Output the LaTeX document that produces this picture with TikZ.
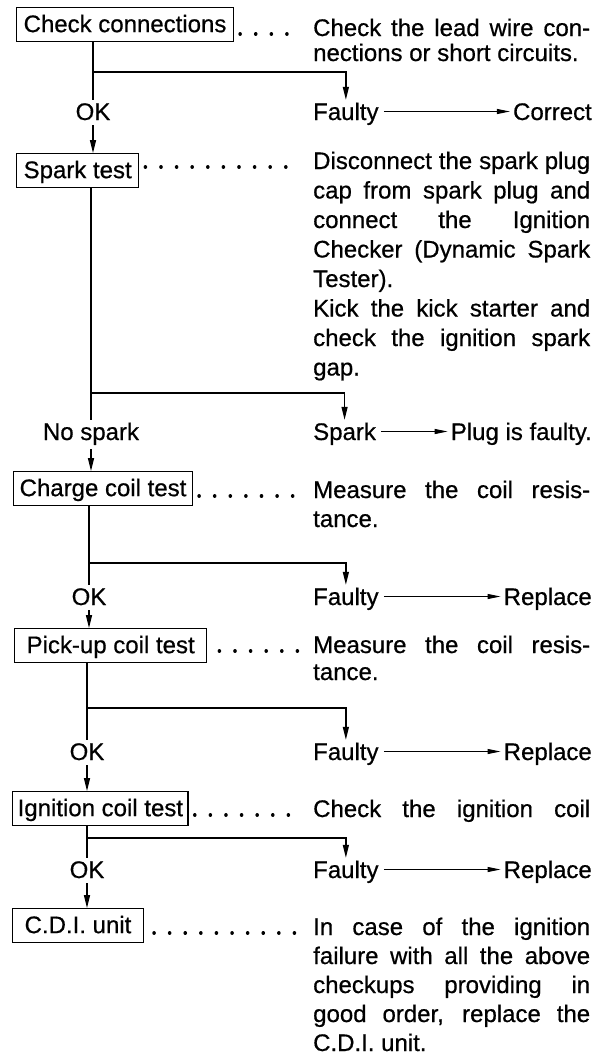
\documentclass[tikz,border=0pt]{standalone}
\usepackage{fontspec}
\setmainfont[FakeBold=0.6]{Liberation Sans}
\usepackage{xcolor}
\usepackage{tikz}
\usetikzlibrary{arrows.meta, positioning, calc}
\newcommand{\stepfont}{\fontsize{24pt}{29pt}\selectfont}
\tolerance=10000
\hyphenpenalty=10000
\hbadness=10000

\begin{document}
\begin{tikzpicture}[x=1pt, y=-1pt, font=\stepfont,
  testbox/.style={draw, line width=1.3pt, anchor=north west, inner xsep=7pt, inner ysep=5.5pt, text height=19pt, text depth=4pt},
  note/.style={anchor=base west, inner sep=0pt, text width=277pt, align=justify},
  okmark/.style={anchor=base, inner xsep=2pt, inner ysep=3pt, text height=17pt, text depth=2pt},
  faultmark/.style={anchor=base west, inner xsep=5pt, inner ysep=3pt, text height=17pt, text depth=0pt},
  remedy/.style={anchor=base east, inner xsep=3pt, inner ysep=3pt, text height=17pt, text depth=0pt},
  link/.style={line width=1.3pt},
  flow/.style={link, -{Triangle[length=13pt, width=6pt]}},
  side/.style={line width=1pt, -{Triangle[length=13pt, width=5pt]}},
  leaderdots/.style={line width=3.5pt, line cap=round, dash pattern=on 0.1pt off 15.5pt}]

  \fill[white] (0,0) rectangle (611,1061);
  \useasboundingbox (0,0) rectangle (611,1061);

  % check connections
  \node[testbox] (chk) at (16,7) {Check connections};
  \node[note, font=\fontsize{24pt}{25pt}\selectfont] (chknote) at (313,36)
    {Check the lead wire con-\linebreak nections or short circuits.};
  \draw[leaderdots] ($(chknote.base west -| chk.east)+(6,-2)$) -- ($(chknote.base west)+(-12,-2)$);
  \coordinate (chkfork) at (0,72);
  \node[okmark] (chkok) at (93,120) {OK};
  \node[faultmark] (chkfault) at (308,120) {Faulty};
  \node[remedy] (chkfix) at (595,120) {Correct};
  \draw[link] (chkok |- chk.south) -- (chkok.north);
  \draw[flow] (chkok |- chkfork) -| (chkfault.north);
  \draw[side] (chkfault.east) -- (chkfix.west);

  % spark test
  \node[testbox] (spark) at (16,153) {Spark test};
  \node[note, font=\fontsize{24pt}{29.5pt}\selectfont] (sparknote) at (313,169)
    {Disconnect the spark plug\linebreak cap from spark plug and\linebreak
     connect the Ignition\linebreak Checker (Dynamic Spark\linebreak Tester).\par
     Kick the kick starter and\linebreak check the ignition spark\linebreak gap.};
  \draw[leaderdots] ($(sparknote.base west -| spark.east)+(6,-2)$) -- ($(sparknote.base west)+(-12,-2)$);
  \draw[flow] (chkok.south) -- (chkok |- spark.north);
  \coordinate (sparkfork) at (0,393);
  \node[okmark, text depth=6pt] (sparkno) at (91,440) {No spark};
  \node[faultmark] (sparkyes) at (308,440) {Spark};
  \node[remedy] (sparkplug) at (595,440) {Plug is faulty.};
  \draw[link] (sparkno |- spark.south) -- (sparkno.north);
  \draw[flow] (sparkno |- sparkfork) -| (sparkyes.north);
  \draw[side] (sparkyes.east) -- (sparkplug.west);

  % charge coil test
  \node[testbox, inner xsep=6pt] (charge) at (13,471) {Charge coil test};
  \node[note] (chargenote) at (313,498) {Measure the coil resis-\linebreak tance.};
  \draw[leaderdots] ($(chargenote.base west -| charge.east)+(6,-2)$) -- ($(chargenote.base west)+(-12,-2)$);
  \draw[flow] (sparkno.south) -- (sparkno |- charge.north);
  \coordinate (chargefork) at (0,563);
  \node[okmark] (chargeok) at (89,605) {OK};
  \node[faultmark] (chargefault) at (308,605) {Faulty};
  \node[remedy] (chargefix) at (595,605) {Replace};
  \draw[link] (chargeok |- charge.south) -- (chargeok.north);
  \draw[flow] (chargeok |- chargefork) -| (chargefault.north);
  \draw[side] (chargefault.east) -- (chargefix.west);

  % pick-up coil test
  \node[testbox, inner xsep=12pt] (pickup) at (14,628) {Pick-up coil test};
  \node[note, font=\fontsize{24pt}{27pt}\selectfont] (pickupnote) at (313,653)
    {Measure the coil resis-\linebreak tance.};
  \draw[leaderdots] ($(pickupnote.base west -| pickup.east)+(12,-2)$) -- ($(pickupnote.base west)+(-12,-2)$);
  \draw[flow] (chargeok.south) -- (chargeok |- pickup.north);
  \coordinate (pickupfork) at (0,708);
  \node[okmark] (pickupok) at (87,760) {OK};
  \node[faultmark] (pickupfault) at (308,760) {Faulty};
  \node[remedy] (pickupfix) at (595,760) {Replace};
  \draw[link] (pickupok |- pickup.south) -- (pickupok.north);
  \draw[flow] (pickupok |- pickupfork) -| (pickupfault.north);
  \draw[side] (pickupfault.east) -- (pickupfix.west);

  % ignition coil test
  \node[testbox, inner xsep=5pt] (igncoil) at (12,791) {Ignition coil test};
  \node[note] (igncoilnote) at (313,817) {\parfillskip=0pt Check the ignition coil\par};
  \draw[leaderdots] ($(igncoilnote.base west -| igncoil.east)+(6,-2)$) -- ($(igncoilnote.base west)+(-12,-2)$);
  \draw[flow] (pickupok.south) -- (pickupok |- igncoil.north);
  \coordinate (igncoilfork) at (0,838);
  \node[okmark] (igncoilok) at (87,878) {OK};
  \node[faultmark] (igncoilfault) at (308,878) {Faulty};
  \node[remedy] (igncoilfix) at (595,878) {Replace};
  \draw[link] (igncoilok |- igncoil.south) -- (igncoilok.north);
  \draw[flow] (igncoilok |- igncoilfork) -| (igncoilfault.north);
  \draw[side] (igncoilfault.east) -- (igncoilfix.west);

  % c.d.i. unit
  \node[testbox, inner xsep=12pt] (cdi) at (12,908) {C.D.I. unit};
  \node[note] (cdinote) at (313,935)
    {In case of the ignition\linebreak failure with all the above\linebreak
     checkups providing in\linebreak good order, replace the\linebreak C.D.I. unit.};
  \draw[leaderdots] ($(cdinote.base west -| cdi.east)+(10,-2)$) -- ($(cdinote.base west)+(-12,-2)$);
  \draw[flow] (igncoilok.south) -- (igncoilok |- cdi.north);
\end{tikzpicture}
\end{document}
